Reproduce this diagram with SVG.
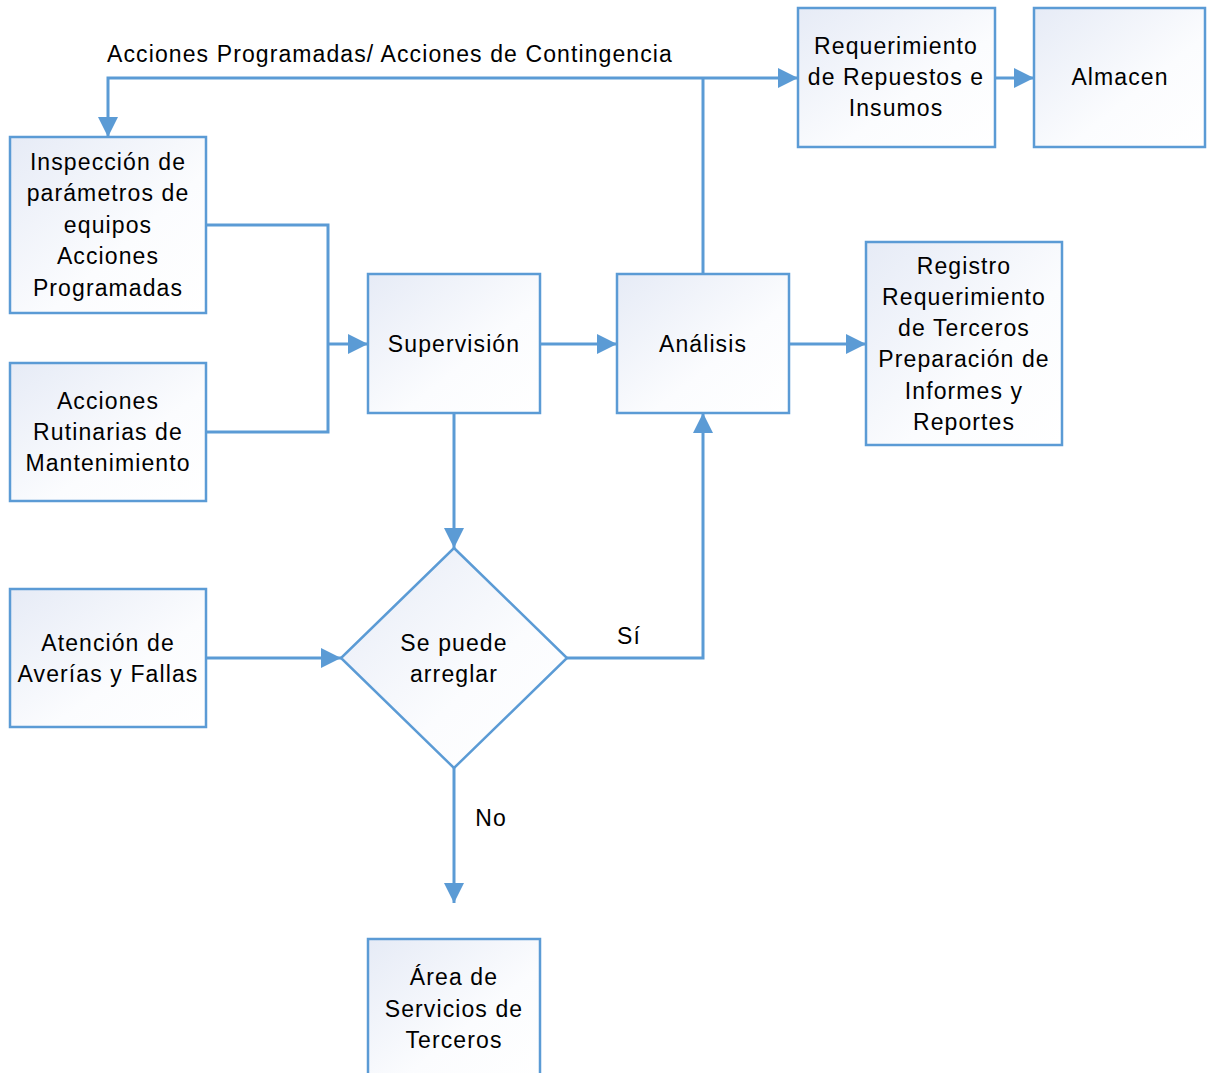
<svg xmlns="http://www.w3.org/2000/svg" width="1211" height="1073" viewBox="0 0 1211 1073">
<defs>
<linearGradient id="g" x1="0" y1="0" x2="1" y2="1">
<stop offset="0" stop-color="#e6ebf6"/>
<stop offset="0.6" stop-color="#fbfcfe"/>
<stop offset="1" stop-color="#ffffff"/>
</linearGradient>
<marker id="a" viewBox="0 0 20 20" refX="20" refY="10" markerWidth="20" markerHeight="20" markerUnits="userSpaceOnUse" orient="auto">
<path d="M0,0 L20,10 L0,20 Z" fill="#5b9bd5"/>
</marker>
</defs>
<style>
.n{fill:url(#g);stroke:#5b9bd5;stroke-width:2.5}
.c{fill:none;stroke:#5b9bd5;stroke-width:3}
text{font-family:"Liberation Sans",Arial,sans-serif;font-size:23px;letter-spacing:1.1px;fill:#000;text-anchor:middle}
</style>
<rect width="1211" height="1073" fill="#fff"/>
<g id="connectors">
<polyline class="c" points="206,225 328,225 328,432 206,432"/>
<line class="c" x1="328" y1="344" x2="368" y2="344" marker-end="url(#a)"/>
<line class="c" x1="540" y1="344" x2="617" y2="344" marker-end="url(#a)"/>
<line class="c" x1="789" y1="344" x2="866" y2="344" marker-end="url(#a)"/>
<line class="c" x1="703" y1="274" x2="703" y2="78"/>
<polyline class="c" points="703,78 108,78 108,137" marker-end="url(#a)"/>
<line class="c" x1="703" y1="78" x2="798" y2="78" marker-end="url(#a)"/>
<line class="c" x1="995" y1="78" x2="1034" y2="78" marker-end="url(#a)"/>
<line class="c" x1="454" y1="413" x2="454" y2="548" marker-end="url(#a)"/>
<line class="c" x1="206" y1="658" x2="341" y2="658" marker-end="url(#a)"/>
<polyline class="c" points="567,658 703,658 703,413" marker-end="url(#a)"/>
<line class="c" x1="454" y1="768" x2="454" y2="903" marker-end="url(#a)"/>
<text x="390" y="62">Acciones Programadas/ Acciones de Contingencia</text>
<text x="629" y="644">Sí</text>
<text x="491" y="826">No</text>
</g>
<g id="inspeccion">
<rect class="n" x="10" y="137" width="196" height="176"/>
<text x="108" y="170">Inspección de</text>
<text x="108" y="201">parámetros de</text>
<text x="108" y="233">equipos</text>
<text x="108" y="264">Acciones</text>
<text x="108" y="296">Programadas</text>
</g>
<g id="rutinarias">
<rect class="n" x="10" y="363" width="196" height="138"/>
<text x="108" y="409">Acciones</text>
<text x="108" y="440">Rutinarias de</text>
<text x="108" y="471">Mantenimiento</text>
</g>
<g id="atencion">
<rect class="n" x="10" y="589" width="196" height="138"/>
<text x="108" y="651">Atención de</text>
<text x="108" y="682">Averías y Fallas</text>
</g>
<g id="supervision">
<rect class="n" x="368" y="274" width="172" height="139"/>
<text x="454" y="352">Supervisión</text>
</g>
<g id="analisis">
<rect class="n" x="617" y="274" width="172" height="139"/>
<text x="703" y="352">Análisis</text>
</g>
<g id="registro">
<rect class="n" x="866" y="242" width="196" height="203"/>
<text x="964" y="274">Registro</text>
<text x="964" y="305">Requerimiento</text>
<text x="964" y="336">de Terceros</text>
<text x="964" y="367">Preparación de</text>
<text x="964" y="399">Informes y</text>
<text x="964" y="430">Reportes</text>
</g>
<g id="requerimiento">
<rect class="n" x="798" y="8" width="197" height="139"/>
<text x="896" y="54">Requerimiento</text>
<text x="896" y="85">de Repuestos e</text>
<text x="896" y="116">Insumos</text>
</g>
<g id="almacen">
<rect class="n" x="1034" y="8" width="171" height="139"/>
<text x="1120" y="85">Almacen</text>
</g>
<g id="decision">
<polygon class="n" points="454,548 567,658 454,768 341,658"/>
<text x="454" y="651">Se puede</text>
<text x="454" y="682">arreglar</text>
</g>
<g id="terceros">
<rect class="n" x="368" y="939" width="172" height="140"/>
<text x="454" y="985">Área de</text>
<text x="454" y="1017">Servicios de</text>
<text x="454" y="1048">Terceros</text>
</g>
</svg>
